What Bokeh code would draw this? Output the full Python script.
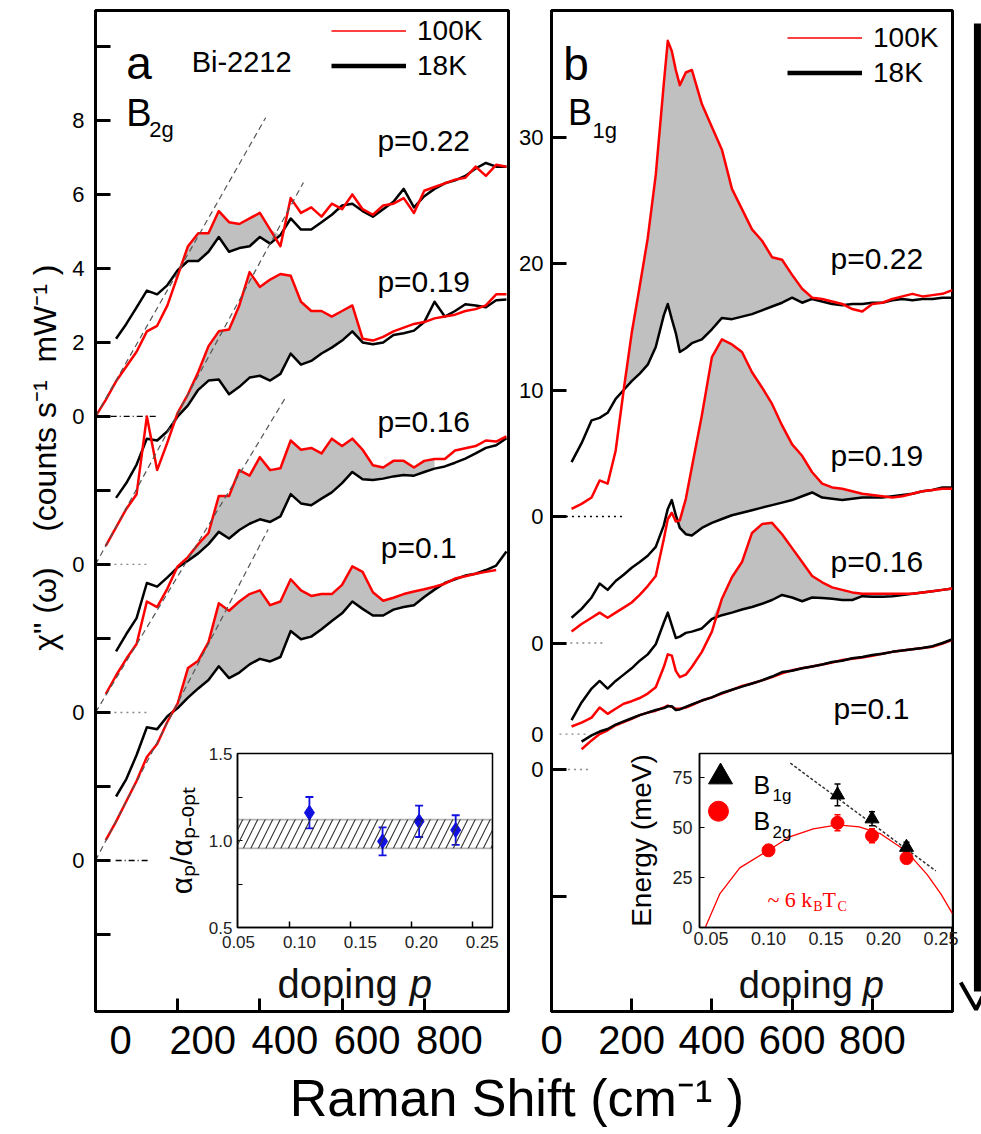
import numpy as np
from bokeh.plotting import figure
from bokeh.models import (Range1d, LinearAxis, FixedTicker, Label, Legend, LegendItem,
                          GridBox, Whisker, TeeHead, BoxAnnotation, ColumnDataSource)
from bokeh.embed import file_html
from bokeh.resources import INLINE

nan = float("nan")
FONT = "Liberation Sans"
SERIF = "Liberation Serif"
RED = "#ff0000"
FILL = "#c0c0c0"

# ======================= DATA =======================
# ---- panel a : B2g spectra (values relative to each spectrum's own zero) ----
shift_a = list(range(0, 1001, 25))          # Raman shift (cm-1)
dop_labels = ["p=0.22", "p=0.19", "p=0.16", "p=0.1"]
offset_a = [0, -4, -8, -12]

a_red_022 = [0.0,0.45,0.95,1.35,1.75,2.3,2.45,3.0,3.8,4.6,4.95,4.95,5.55,5.25,5.2,5.35,5.5,5.05,4.6,5.9,
             5.5,5.65,5.4,5.75,5.6,6.0,5.6,5.45,5.7,5.75,5.9,5.5,6.1,6.2,6.3,6.4,6.45,6.75,6.5,6.8,6.75]
a_blk_022 = [nan,nan,2.1,2.5,2.95,3.4,3.3,3.55,3.95,4.2,4.2,4.45,4.85,4.45,4.55,4.6,4.85,4.67,4.9,5.35,
             5.05,5.05,5.25,5.45,5.7,5.75,5.55,5.4,5.6,5.8,6.15,5.65,5.95,6.15,6.3,6.38,6.5,6.7,6.85,6.75,6.75]
a_red_019 = [nan,0.5,1.0,1.5,1.9,4.0,2.55,3.3,4.1,4.6,5.2,5.9,6.3,6.35,7.0,7.9,7.5,7.7,7.85,7.8,
             7.1,6.85,6.85,6.7,6.85,7.0,6.1,6.05,6.15,6.3,6.4,6.5,6.55,6.65,6.7,6.75,6.85,6.9,7.0,7.3,7.3]
a_blk_019 = [nan,nan,1.8,2.2,2.7,3.4,3.35,3.6,4.0,4.3,4.72,4.97,5.0,4.6,4.8,5.05,5.1,4.97,5.15,5.7,
             5.4,5.5,5.7,5.86,6.05,6.3,6.0,5.95,6.0,6.2,6.25,6.32,6.55,7.1,6.7,6.85,7.03,7.0,6.95,7.14,7.16]
a_red_016 = [nan,0.5,1.0,1.45,1.85,3.0,2.85,3.35,3.95,4.2,4.55,4.85,5.85,5.85,6.55,6.4,6.9,6.55,6.6,7.35,
             7.1,7.15,7.0,7.4,7.2,7.4,7.1,6.68,6.62,6.8,6.8,6.62,6.8,6.85,6.85,7.08,7.14,7.2,7.35,7.32,7.46]
a_blk_016 = [nan,nan,1.65,2.12,2.55,3.5,3.4,3.65,3.92,4.1,4.3,4.55,4.88,4.7,4.93,5.1,5.22,5.15,5.3,5.9,
             5.65,5.6,5.78,5.95,6.2,6.5,6.3,6.28,6.32,6.38,6.42,6.4,6.5,6.59,6.65,6.75,6.86,7.0,7.15,7.22,7.41]
a_red_010 = [nan,0.55,1.05,1.6,2.15,2.8,3.15,3.75,4.25,5.2,5.4,5.9,6.95,6.75,7.0,7.2,7.3,6.9,7.0,7.6,
             7.3,7.15,7.2,7.2,7.45,7.95,7.8,7.25,7.02,7.1,7.2,7.27,7.33,7.4,7.48,7.62,7.68,7.75,7.8,7.85,nan]
a_blk_010 = [nan,nan,1.73,2.2,2.85,3.6,3.55,3.9,4.12,4.4,4.65,4.88,5.25,4.93,5.08,5.3,5.45,5.38,5.5,6.2,
             5.98,6.05,6.25,6.47,6.68,7.0,6.8,6.62,6.62,6.78,6.85,6.9,7.12,7.32,7.5,7.6,7.7,7.75,7.85,7.97,8.35]
fill_a = [(200, 450), (175, 650), (225, 825), (200, 850)]
slope_a = [0.0195, 0.0204, 0.0184, 0.0213]      # linear low-energy slopes
slope_end_a = [414, 506, 464, 420]
zero_a = [(37, 153), (46, 129), (46, 129), (49, 129)]

# ---- panel b : B1g spectra ----
shift_b = [50,75,100,120,140,160,180,200,220,240,260,280,290,300,310,320,335,350,375,400,
           425,450,475,500,525,550,575,600,625,650,675,700,725,750,775,800,825,850,875,900,925,950,975,1000]
offset_b = [0, -10, -17.2, -20]
b_red_022 = [0.6,1.0,1.5,2.85,2.6,5.2,10.0,14.5,18.2,22.0,27.0,34.2,37.6,36.8,35.3,34.1,35.1,35.3,32.6,30.8,
             29.0,25.9,24.3,22.7,21.8,20.5,20.3,19.1,18.0,17.3,17.2,17.0,16.8,16.4,16.2,16.8,16.9,17.2,17.4,17.6,
             17.4,17.5,17.6,17.9]
b_blk_022 = [4.3,5.8,7.6,7.8,8.2,9.3,10.0,10.7,11.3,12.0,13.4,15.9,16.8,15.6,14.5,13.0,13.3,13.7,14.0,14.8,
             15.7,15.6,15.8,16.0,16.3,16.6,16.9,17.3,16.9,17.2,17.0,16.8,16.7,16.8,16.8,16.9,16.9,17.1,17.2,17.1,
             17.2,17.2,17.3,17.3]
b_red_019 = [0.9,1.5,2.0,2.4,2.0,2.4,2.8,3.2,3.8,4.5,5.3,8.2,9.8,10.3,9.6,9.7,11.4,13.9,18.0,22.6,
             24.0,23.6,23.0,21.4,20.2,18.9,17.2,15.7,14.8,13.5,12.6,12.3,12.2,12.0,11.8,11.7,11.6,11.5,11.6,11.8,
             12.0,12.1,12.2,12.2]
b_blk_019 = [2.0,2.7,3.6,4.7,4.2,4.9,5.4,5.95,6.4,6.9,7.6,9.3,10.6,11.3,10.1,9.1,8.6,8.5,9.1,9.5,
             9.8,10.1,10.3,10.5,10.7,10.9,11.1,11.3,11.6,11.9,11.5,11.4,11.3,11.4,11.5,11.5,11.5,11.6,11.7,11.8,
             12.0,12.1,12.3,12.3]
b_red_016 = [0.6,0.9,1.3,2.1,1.6,2.0,2.4,2.6,2.85,3.2,3.7,5.3,6.3,6.2,5.0,4.5,4.7,5.3,6.5,8.1,
             10.7,12.4,13.6,15.9,16.6,16.7,15.8,14.7,13.6,12.5,12.0,11.6,11.4,11.2,11.1,11.1,11.1,11.1,11.1,11.1,
             11.2,11.3,11.4,11.5]
b_blk_016 = [1.1,2.5,3.6,4.2,3.6,4.2,4.7,5.2,5.8,6.3,7.1,8.8,9.6,8.6,7.6,7.7,8.0,8.1,8.35,9.1,
             9.4,9.6,9.85,10.05,10.3,10.6,11.0,10.8,10.5,10.8,10.75,10.7,10.6,10.6,10.9,10.85,10.85,10.9,11.0,11.1,
             11.2,11.3,11.4,11.5]
b_red_010 = [nan,1.6,2.3,2.8,3.1,3.5,3.75,4.0,4.3,4.5,4.65,4.9,5.05,4.95,4.8,4.8,4.9,5.1,5.45,5.7,
             6.0,6.3,6.6,6.8,7.05,7.3,7.6,7.85,8.0,8.15,8.3,8.45,8.65,8.75,8.85,9.0,9.15,9.3,9.4,9.5,
             9.6,9.7,9.95,10.25]
b_blk_010 = [nan,2.2,2.7,3.0,3.2,3.55,3.8,4.05,4.3,4.5,4.7,4.85,5.0,5.0,4.7,4.75,4.95,5.15,5.45,5.7,
             6.05,6.3,6.55,6.8,7.05,7.35,7.7,7.8,8.0,8.15,8.3,8.5,8.6,8.8,8.9,9.05,9.15,9.3,9.4,9.5,
             9.6,9.75,10.0,10.3]
fill_b = [(160, 650), (290, 800), (400, 825), None]
zero_b = [(36, 182), (32, 133), (20, 92), (41, 97)]

# ---- inset a : alpha_p / alpha_p-opt ----
ins_a_p = [0.10, 0.16, 0.19, 0.22]
ins_a_ratio = [1.16, 0.995, 1.11, 1.06]
ins_a_err = [0.09, 0.08, 0.09, 0.085]
band_lo, band_hi = 0.955, 1.12

# ---- inset b : energies ----
b1g_p = [0.16, 0.19, 0.22]
b1g_E = [66.5, 54.5, 40.2]
b1g_err = [5.5, 3.5, 2.5]
b2g_p = [0.10, 0.16, 0.19, 0.22]
b2g_E = [38.7, 52.5, 46.0, 34.8]
b2g_err = [2.5, 4.0, 3.5, 2.5]
fit_p = [0.119, 0.2455]
fit_E = [82.4, 28.4]
tc_p = [0.045, 0.0575, 0.075, 0.10, 0.119, 0.139, 0.16, 0.179, 0.197, 0.22, 0.238, 0.25, 0.26]
tc_E = [0.0, 16.7, 29.9, 38.7, 45.6, 49.5, 51.5, 50.5, 47.1, 38.2, 26.5, 16.7, 6.9]

raman_ticks = [0, 200, 400, 600, 800]
doping_ticks = [0.05, 0.10, 0.15, 0.20, 0.25]
doping_tick_text = {0.05: "0.05", 0.1: "0.10", 0.15: "0.15", 0.2: "0.20", 0.25: "0.25"}

# decorative bar on the right edge (page pixels)
bar_x = [976.5, 976.5]
bar_y = [13, 985]
arrow_x = [958, 975, 982]
arrow_y = [976, 1003, 990]

NB = "\u00a0"


# ======================= HELPERS =======================
def base_fig(width, height, xr, yr, left, right, top, bottom, frame_bg="white", outline=True):
    p = figure(width=width, height=height, x_range=xr, y_range=yr,
               output_backend="svg", toolbar_location=None,
               x_axis_location=None, y_axis_location=None,
               min_border_left=left, min_border_right=right,
               min_border_top=top, min_border_bottom=bottom)
    p.grid.visible = False
    p.border_fill_alpha = 0
    if frame_bg is None:
        p.background_fill_alpha = 0
    else:
        p.background_fill_color = frame_bg
    if outline:
        p.outline_line_color = "black"
        p.outline_line_width = 3
        p.outline_line_alpha = 1
    else:
        p.outline_line_color = None
    return p


def lab(p, x, y, text, size, color="black", font=FONT, style="normal",
        align="left", baseline="alphabetic", angle=0):
    p.add_layout(Label(x=x, y=y, text=text, text_font_size=f"{size}px", text_color=color,
                       text_font=font, text_font_style=style, text_align=align,
                       text_baseline=baseline, angle=angle))


def axis(**kw):
    base = dict(minor_tick_line_color=None, major_label_text_font=FONT, major_label_text_color="black",
                axis_label_text_font=FONT, axis_label_text_font_style="normal",
                axis_label_text_color="black")
    base.update(kw)
    return LinearAxis(**base)


def legend(p, loc, r1, r2):
    p.add_layout(Legend(items=[LegendItem(label="100K", renderers=[r1]),
                               LegendItem(label="18K", renderers=[r2])],
                        location=loc, glyph_width=75, glyph_height=35, label_height=35,
                        label_standoff=11, padding=0, spacing=0, margin=0, border_line_alpha=0,
                        background_fill_alpha=0, label_text_font=FONT, label_text_font_size="28px",
                        label_text_color="black"))


# ======================= PANEL A =======================
fa = base_fig(520, 1134, Range1d(0, 1005), Range1d(-16.08, 10.97), 95, 12, 10, 123)
ya_over = {10: "", 8: "8", 6: "6", 4: "4", 2: "2", 0: "0", -2: "", -4: "0",
           -6: "", -8: "0", -10: "", -12: "0", -14: ""}
ylabel_a = NB * 12 + 'χ" (ω)' + NB * 4 + "(counts s⁻¹" + NB + " mW⁻¹ )"
fa.add_layout(axis(ticker=FixedTicker(ticks=list(range(-14, 11, 2))), major_label_overrides=ya_over,
                   major_tick_in=15, major_tick_out=0, major_tick_line_width=3, axis_line_width=3,
                   major_label_text_font_size="22px", major_label_standoff=11,
                   axis_label=ylabel_a, axis_label_text_font_size="32px", axis_label_standoff=6), "left")
# tick labels of the printed figure sit ~25 px right of their tick marks
lab_shift_a = 61
fa.extra_x_ranges = {"lab": Range1d(0 - lab_shift_a, 1005 - lab_shift_a)}
fa.add_layout(axis(x_range_name="lab",
                   ticker=FixedTicker(ticks=raman_ticks, minor_ticks=[t - lab_shift_a for t in raman_ticks]),
                   major_tick_in=0, major_tick_out=0, minor_tick_in=13, minor_tick_out=0,
                   minor_tick_line_color="black", minor_tick_line_width=3, axis_line_width=3,
                   major_label_text_font_size="40px", major_label_standoff=14), "below")

Wa = np.array(shift_a, dtype=float)
reds_a = [a_red_022, a_red_019, a_red_016, a_red_010]
blks_a = [a_blk_022, a_blk_019, a_blk_016, a_blk_010]
for i in range(4):
    r = np.array(reds_a[i], dtype=float)
    b = np.array(blks_a[i], dtype=float)
    off = offset_a[i]
    lo, hi = fill_a[i]
    m = (Wa >= lo) & (Wa <= hi)
    fa.varea(x=Wa[m], y1=b[m] + off, y2=np.maximum(r[m], b[m]) + off, fill_color=FILL)
    z0, z1 = zero_a[i]
    dash = "6 3 1 3" if i in (0, 3) else "2 4"
    zcol = "black" if i in (0, 3) else "#888888"
    fa.line(x=[z0, z1], y=[off, off], line_color=zcol, line_width=1.3, line_dash=dash)
    fa.line(x=Wa, y=b + off, line_color="black", line_width=2.5, line_join="round")
    fa.line(x=Wa, y=r + off, line_color=RED, line_width=2.5, line_join="round")
for i in range(4):
    xe = slope_end_a[i]
    fa.line(x=[0, xe], y=[offset_a[i], offset_a[i] + slope_a[i] * xe], line_color="#555555",
            line_width=1.2, line_dash="6 4")

ra100 = fa.line(x=[nan], y=[nan], line_color=RED, line_width=1.6)
ra18 = fa.line(x=[nan], y=[nan], line_color="black", line_width=4.5)
legend(fa, (236, 928), ra100, ra18)
lab(fa, 75, 9.54, "a", 46)
lab(fa, 234, 9.57, "Bi-2212", 29)
lab(fa, 75, 8.19, "B", 38)
lab(fa, 131, 7.76, "2g", 22)
pos_a = [(686, 7.46), (686, 3.65), (686, -0.14), (694, -3.54)]
for (x, y), t in zip(pos_a, dop_labels):
    lab(fa, x, y, t, 30)
# x title of inset a (drawn in the main panel, under the transparent inset border)
lab(fa, 443, -15.35, "doping", 40, color="#111111")
lab(fa, 765, -15.35, "p", 40, color="#111111", style="italic")

# ======================= PANEL B =======================
fb = base_fig(464, 1134, Range1d(0, 1000), Range1d(-39.13, 40.0), 51, 2, 10, 123)
yb_lab_ticks = [-20, -17.2, -10, 0, 10, 20, 30]
yb_over = {-20: "0", -17.2: "0", -10: "0", 0: "0", 10: "10", 20: "20", 30: "30"}
fb.add_layout(axis(ticker=FixedTicker(ticks=yb_lab_ticks, minor_ticks=[-30, -20, -10, 0, 10, 20, 30]),
                   major_label_overrides=yb_over,
                   major_tick_in=0, major_tick_out=0, minor_tick_in=15, minor_tick_out=0,
                   minor_tick_line_color="black", minor_tick_line_width=3, axis_line_width=3,
                   major_label_text_font_size="22px", major_label_standoff=8), "left")
fb.add_layout(axis(ticker=FixedTicker(ticks=raman_ticks), major_tick_in=13, major_tick_out=0,
                   major_tick_line_width=3, axis_line_width=3,
                   major_label_text_font_size="40px", major_label_standoff=14), "below")

Wb = np.array(shift_b, dtype=float)
reds_b = [b_red_022, b_red_019, b_red_016, b_red_010]
blks_b = [b_blk_022, b_blk_019, b_blk_016, b_blk_010]
for i in range(4):
    r = np.array(reds_b[i], dtype=float)
    b = np.array(blks_b[i], dtype=float)
    off = offset_b[i]
    if fill_b[i] is not None:
        lo, hi = fill_b[i]
        m = (Wb >= lo) & (Wb <= hi)
        fb.varea(x=Wb[m], y1=b[m] + off, y2=np.maximum(r[m], b[m]) + off, fill_color=FILL)
    z0, z1 = zero_b[i]
    zcol = "black" if i == 0 else "#888888"
    fb.line(x=[z0, z1], y=[off, off], line_color=zcol, line_width=1.3, line_dash="2 4")
    if i == 3:
        fb.line(x=Wb, y=r + off, line_color=RED, line_width=2.5, line_join="round")
        fb.line(x=Wb, y=b + off, line_color="black", line_width=2.5, line_join="round")
    else:
        fb.line(x=Wb, y=b + off, line_color="black", line_width=2.5, line_join="round")
        fb.line(x=Wb, y=r + off, line_color=RED, line_width=2.5, line_join="round")

rb100 = fb.line(x=[nan], y=[nan], line_color=RED, line_width=1.6)
rb18 = fb.line(x=[nan], y=[nan], line_color="black", line_width=4.5)
legend(fb, (236, 921), rb100, rb18)
lab(fb, 29, 35.8, "b", 46)
lab(fb, 41, 31.9, "B", 36)
lab(fb, 102, 30.5, "1g", 22)
pos_b = [(696, 20.4), (696, 4.8), (696, -3.56), (703, -15.2)]
for (x, y), t in zip(pos_b, dop_labels):
    lab(fb, x, y, t, 30)
# x title of inset b
lab(fb, 467, -37.0, "doping", 38, color="#111111")
lab(fb, 776, -37.0, "p", 38, color="#111111", style="italic")

# ======================= INSET A =======================
ia = base_fig(350, 265, Range1d(0.041, 0.2502), Range1d(0.5, 1.5), 87, 8, 13, 78)
ia.outline_line_width = 1.5
ia.add_layout(axis(ticker=FixedTicker(ticks=[0.5, 1.0, 1.5], minor_ticks=[0.75, 1.25]),
                   major_label_overrides={0.5: "0.5", 1.0: "1.0", 1.5: "1.5"},
                   major_tick_in=5, major_tick_out=0, minor_tick_in=5, minor_tick_out=0,
                   minor_tick_line_color="black", axis_line_width=1.5,
                   major_label_text_font_size="17px", major_label_text_color="#222222",
                   major_label_standoff=5, axis_label="αₚ/αₚ₋ₒₚₜ", axis_label_text_font_size="30px",
                   axis_label_standoff=8), "left")
lab_shift_i = 0.0082
ia.extra_x_ranges = {"lab": Range1d(0.041 + lab_shift_i, 0.2502 + lab_shift_i)}
ia.add_layout(axis(x_range_name="lab",
                   ticker=FixedTicker(ticks=doping_ticks, minor_ticks=[t - lab_shift_i for t in doping_ticks]),
                   major_label_overrides=doping_tick_text, major_tick_in=0, major_tick_out=0,
                   minor_tick_in=6, minor_tick_out=0, minor_tick_line_color="black", minor_tick_line_width=1.5,
                   axis_line_width=1.5, major_label_text_font_size="17px",
                   major_label_text_color="#222222", major_label_standoff=8), "below")
ia.add_layout(BoxAnnotation(bottom=band_lo, top=band_hi, fill_alpha=0, hatch_pattern="/",
                            hatch_scale=15, hatch_weight=1.1, hatch_color="#333333",
                            line_color="black", line_width=1.8))
src_a = ColumnDataSource(dict(p=ins_a_p, r=ins_a_ratio,
                              up=[v + e for v, e in zip(ins_a_ratio, ins_a_err)],
                              lo=[v - e for v, e in zip(ins_a_ratio, ins_a_err)]))
ia.add_layout(Whisker(source=src_a, base="p", upper="up", lower="lo", line_color="#1010e0",
                      line_width=1.8,
                      upper_head=TeeHead(size=8, line_color="#1010e0", line_width=1.8),
                      lower_head=TeeHead(size=8, line_color="#1010e0", line_width=1.8)))
ia.scatter(x="p", y="r", source=src_a, marker="diamond", size=15, fill_color="#1010e0",
           line_color="#1010e0")

# ======================= INSET B =======================
ib = base_fig(364, 265, Range1d(0.04, 0.26), Range1d(0, 87.25), 99, 12, 13, 74)
ib.outline_line_width = 1.5
ib.add_layout(axis(ticker=FixedTicker(ticks=[0, 25, 50, 75]), major_tick_in=5, major_tick_out=0,
                   axis_line_width=1.5, major_label_text_font_size="18px",
                   major_label_text_color="#222222", major_label_standoff=7,
                   axis_label="Energy (meV)", axis_label_text_font_size="28px",
                   axis_label_standoff=12), "left")
ib.add_layout(axis(ticker=FixedTicker(ticks=doping_ticks), major_label_overrides=doping_tick_text,
                   major_tick_in=0, major_tick_out=0, axis_line_width=1.5,
                   major_label_text_font_size="18px", major_label_text_color="#222222",
                   major_label_standoff=4), "below")
ib.line(x=tc_p, y=tc_E, line_color=RED, line_width=1.3)
ib.line(x=fit_p, y=fit_E, line_color="#333333", line_width=1.5, line_dash="3 2")
src_b2 = ColumnDataSource(dict(p=b2g_p, E=b2g_E, up=[v + e for v, e in zip(b2g_E, b2g_err)],
                               lo=[v - e for v, e in zip(b2g_E, b2g_err)]))
src_b1 = ColumnDataSource(dict(p=b1g_p, E=b1g_E, up=[v + e for v, e in zip(b1g_E, b1g_err)],
                               lo=[v - e for v, e in zip(b1g_E, b1g_err)]))
for src, col in ((src_b2, RED), (src_b1, "black")):
    ib.add_layout(Whisker(source=src, base="p", upper="up", lower="lo", line_color=col, line_width=1.5,
                          upper_head=TeeHead(size=6, line_color=col, line_width=1.5),
                          lower_head=TeeHead(size=6, line_color=col, line_width=1.5)))
ib.scatter(x="p", y="E", source=src_b2, marker="circle", size=13, fill_color=RED, line_color=RED)
ib.scatter(x="p", y="E", source=src_b1, marker="triangle", size=14, fill_color="black",
           line_color="black")
# legend keys
ib.scatter(x=[0.0583], y=[75.5], marker="triangle", size=24, fill_color="black", line_color="black")
ib.scatter(x=[0.0565], y=[58.3], marker="circle", size=20, fill_color=RED, line_color=RED)
lab(ib, 0.087, 71.6, "B", 25)
lab(ib, 0.1035, 66.0, "1g", 17)
lab(ib, 0.087, 53.4, "B", 25)
lab(ib, 0.1035, 47.8, "2g", 17)
lab(ib, 0.0991, 14.2, "~ 6 k", 22, color=RED, font=SERIF)
lab(ib, 0.139, 10.3, "B", 14, color=RED, font=SERIF)
lab(ib, 0.147, 14.2, "T", 22, color=RED, font=SERIF)
lab(ib, 0.160, 10.3, "C", 14, color=RED, font=SERIF)

# ============ OVERLAY: common x title + right-edge bar (page coordinates) ============
# the title axis leaves a transparent frame covering page rows 0..1005
ft = base_fig(981, 1134, Range1d(0, 981), Range1d(1005, 0), 0, 0, 0, 64, frame_bg=None, outline=False)
ft.line(x=bar_x, y=bar_y, line_color="black", line_width=7)
ft.line(x=arrow_x, y=arrow_y, line_color="black", line_width=4)
ft.add_layout(axis(ticker=FixedTicker(ticks=[]), major_tick_in=0, major_tick_out=0, axis_line_color=None,
                   major_label_text_font_size="10px", major_label_standoff=0,
                   axis_label="Raman Shift (cm⁻¹ )" + NB * 3, axis_label_text_font_size="52px",
                   axis_label_standoff=57), "below")

# ======================= LAYOUT =======================
grid = GridBox(children=[(fa, 0, 0, 4, 3), (fb, 0, 2, 4, 4),
                         (ia, 1, 1, 1, 1), (ib, 1, 4, 1, 2), (ft, 0, 0, 4, 7)],
               rows=["740px", "265px", "65px", "64px"],
               cols=["150px", "350px", "20px", "80px", "350px", "14px", "17px"], spacing=0)

open("out.html", "w").write(file_html(grid, INLINE, title="Bi-2212 Raman"))
